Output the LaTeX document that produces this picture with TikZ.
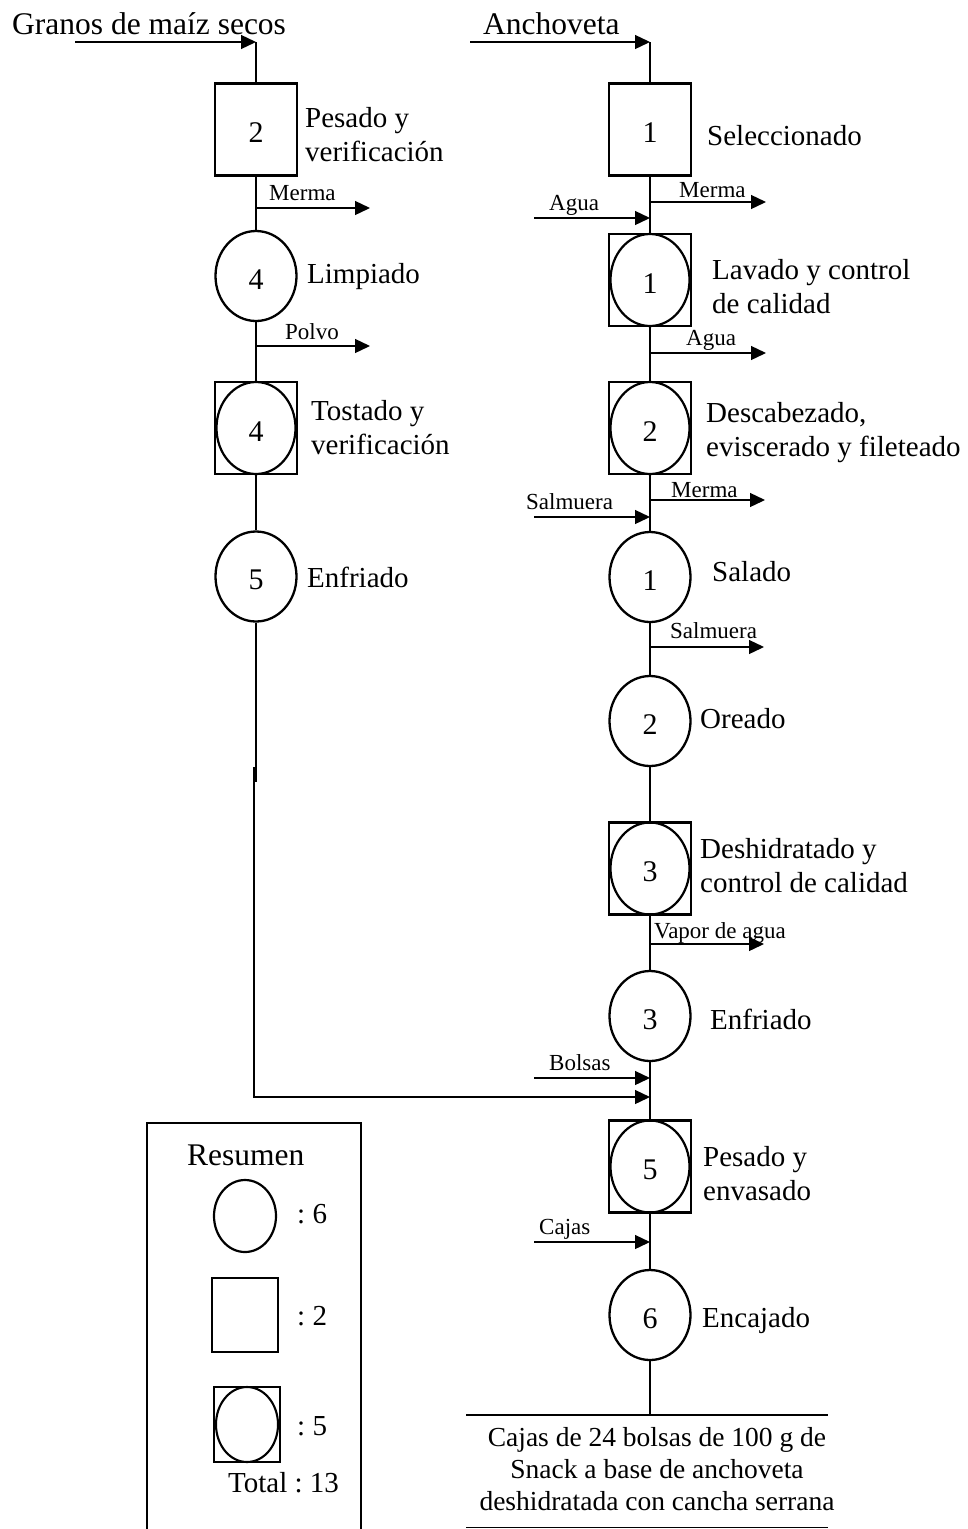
\documentclass[tikz,border=0pt]{standalone}
\usepackage{fontspec}
\setmainfont{Liberation Serif}
\usetikzlibrary{arrows.meta,shapes.geometric}
\frenchspacing
\newcommand\LabFont{\fontsize{29}{34}\selectfont}
\newcommand\SmFont{\fontsize{23}{27}\selectfont}
\newcommand\TitFont{\fontsize{31.5}{36}\selectfont}
\newcommand\NumFont{\fontsize{30}{34}\selectfont}
\newcommand\EndFont{\fontsize{27.5}{32}\selectfont}
\tikzset{
  flow/.style={line width=1.3pt},
  arr/.style={flow,-{Triangle[length=15pt,width=14pt]}},
  circ/.style={draw,ellipse,line width=2.3pt,minimum width=81pt,minimum height=90pt,inner sep=0pt,font=\NumFont,text height=26pt,text depth=0pt},
  sqbox/.style={draw,rectangle,line width=2.4pt,minimum width=82pt,minimum height=92pt,inner sep=0pt,font=\NumFont,text height=26pt,text depth=0pt},
  inell/.style={draw,ellipse,line width=2.2pt,minimum width=79pt,minimum height=92pt,inner sep=0pt,font=\NumFont,text height=26pt,text depth=0pt},
  lbl/.style={inner sep=0pt,font=\LabFont,anchor=base west},
  lbltwo/.style={inner sep=0pt,font=\LabFont,anchor=west,align=left},
  sm/.style={inner sep=0pt,font=\SmFont,anchor=base west},
  tit/.style={inner sep=0pt,font=\TitFont,anchor=base west},
}
\begin{document}
\begin{tikzpicture}[x=1pt,y=-1pt]
\useasboundingbox (0,0) rectangle (968,1529);

% ---------- left column ----------
\node[tit] (tL) at (12,34) {Granos de maíz secos};
\coordinate (inL) at (75,42);
\coordinate (topL) at (256,42);
\draw[arr] (inL) -- (topL);

\node[sqbox] (b2) at (256,129.5) {2};
\node[lbltwo] (b2t) at (305,135) {Pesado y\\verificación};
\draw[flow] (topL) -- (b2.north);

\node[circ] (c4) at (256,276) {4};
\node[lbl] (c4t) at (307,283) {Limpiado};
\draw[flow] (b2.south) -- (c4.north);
\coordinate (mL1) at (256,208);
\coordinate (mL1e) at (370,208);
\draw[arr] (mL1) -- (mL1e);
\node[sm] (mL1t) at (269,200) {Merma};

\node[sqbox] (s4) at (256,428) {};
\node[inell] (s4e) at (s4) {4};
\node[lbltwo] (s4t) at (311,428) {Tostado y\\verificación};
\draw[flow] (c4.south) -- (s4.north);
\coordinate (pL) at (256,346);
\coordinate (pLe) at (370,346);
\draw[arr] (pL) -- (pLe);
\node[sm] (pLt) at (285,339) {Polvo};

\node[circ] (c5) at (256,576.5) {5};
\node[lbl] (c5t) at (307,587) {Enfriado};
\draw[flow] (s4.south) -- (c5.north);

\coordinate (j1) at (256,782);
\coordinate (j2) at (254,767);
\coordinate (corner) at (254,1097);
\coordinate (join) at (650,1097);
\draw[flow] (c5.south) -- (j1);
\draw[arr] (j2) -- (corner) -- (join);

% ---------- right column ----------
\node[tit] (tR) at (483,34) {Anchoveta};
\coordinate (inR) at (470,42);
\coordinate (topR) at (650,42);
\draw[arr] (inR) -- (topR);

\node[sqbox] (b1) at (650,129.5) {1};
\node[lbl] (b1t) at (707,145) {Seleccionado};
\draw[flow] (topR) -- (b1.north);

\node[sqbox] (s1) at (650,280) {};
\node[inell] (s1e) at (s1) {1};
\node[lbltwo] (s1t) at (712,287) {Lavado y control\\de calidad};
\draw[flow] (b1.south) -- (s1.north);
\coordinate (mR1) at (651,202);
\coordinate (mR1e) at (766,202);
\draw[arr] (mR1) -- (mR1e);
\node[sm] (mR1t) at (679,197) {Merma};
\coordinate (aIn) at (534,218);
\coordinate (aInE) at (650,218);
\draw[arr] (aIn) -- (aInE);
\node[sm] (aInt) at (549,210) {Agua};

\node[sqbox] (s2) at (650,428) {};
\node[inell] (s2e) at (s2) {2};
\node[lbltwo] (s2t) at (706,433) {Descabezado,\\eviscerado y fileteado};
\draw[flow] (s1.south) -- (s2.north);
\coordinate (aOut) at (651,353);
\coordinate (aOutE) at (766,353);
\draw[arr] (aOut) -- (aOutE);
\node[sm] (aOutt) at (686,345) {Agua};

\node[circ] (c1) at (650,577) {1};
\node[lbl] (c1t) at (712,581) {Salado};
\draw[flow] (s2.south) -- (c1.north);
\coordinate (mR2) at (651,500);
\coordinate (mR2e) at (765,500);
\draw[arr] (mR2) -- (mR2e);
\node[sm] (mR2t) at (671,497) {Merma};
\coordinate (sIn) at (534,517);
\coordinate (sInE) at (650,517);
\draw[arr] (sIn) -- (sInE);
\node[sm] (sInt) at (526,509) {Salmuera};

\node[circ] (c2) at (650,721) {2};
\node[lbl] (c2t) at (700,728) {Oreado};
\draw[flow] (c1.south) -- (c2.north);
\coordinate (sOut) at (651,647);
\coordinate (sOutE) at (764,647);
\draw[arr] (sOut) -- (sOutE);
\node[sm] (sOutt) at (670,638) {Salmuera};

\node[sqbox] (s3) at (650,868.5) {};
\node[inell] (s3e) at (s3) {3};
\node[lbltwo] (s3t) at (700,866) {Deshidratado y\\control de calidad};
\draw[flow] (c2.south) -- (s3.north);

\node[circ] (c3) at (650,1016) {3};
\node[lbl] (c3t) at (710,1029) {Enfriado};
\draw[flow] (s3.south) -- (c3.north);
\coordinate (vOut) at (651,944);
\coordinate (vOutE) at (764,944);
\draw[arr] (vOut) -- (vOutE);
\node[sm] (vOutt) at (654,938) {Vapor de agua};

\node[sqbox] (s5) at (650,1166.5) {};
\node[inell] (s5e) at (s5) {5};
\node[lbltwo] (s5t) at (703,1174) {Pesado y\\envasado};
\draw[flow] (c3.south) -- (s5.north);
\coordinate (bIn) at (534,1078);
\coordinate (bInE) at (650,1078);
\draw[arr] (bIn) -- (bInE);
\node[sm] (bInt) at (549,1070) {Bolsas};

\node[circ] (c6) at (650,1315) {6};
\node[lbl] (c6t) at (702,1327) {Encajado};
\draw[flow] (s5.south) -- (c6.north);
\coordinate (cIn) at (534,1242);
\coordinate (cInE) at (650,1242);
\draw[arr] (cIn) -- (cInE);
\node[sm] (cInt) at (539,1234) {Cajas};

% ---------- product ----------
\coordinate (endR) at (650,1415);
\draw[flow] (c6.south) -- (endR);
\coordinate (r1a) at (466,1415);
\coordinate (r1b) at (828,1415);
\draw[flow] (r1a) -- (r1b);
\node[inner sep=0pt,font=\EndFont,align=center] (prod) at (657,1469.5)
  {Cajas de 24 bolsas de 100 g de\\Snack a base de anchoveta\\deshidratada con cancha serrana};
\coordinate (r2a) at (466,1527.5);
\coordinate (r2b) at (828,1527.5);
\draw[flow] (r2a) -- (r2b);

% ---------- legend ----------
\draw[line width=2.2pt] (147,1529) -- (147,1123) -- (361,1123) -- (361,1529);
\node[inner sep=0pt,font=\TitFont,anchor=base west] (res) at (187,1165) {Resumen};
\node[draw,ellipse,line width=2.2pt,minimum width=62pt,minimum height=72pt,inner sep=0pt] (lg1) at (245,1216) {};
\node[lbl] (lg1t) at (297,1223) {: 6};
\node[draw,rectangle,line width=2.2pt,minimum width=66pt,minimum height=74pt,inner sep=0pt] (lg2) at (245,1315) {};
\node[lbl] (lg2t) at (297,1325) {: 2};
\node[draw,rectangle,line width=2.2pt,minimum width=66pt,minimum height=75pt,inner sep=0pt] (lg3) at (247,1424.5) {};
\node[draw,ellipse,line width=2.1pt,minimum width=62pt,minimum height=75pt,inner sep=0pt] (lg3e) at (lg3) {};
\node[lbl] (lg3t) at (297,1435) {: 5};
\node[lbl] (tot) at (228,1492) {Total : 13};
\end{tikzpicture}
\end{document}
